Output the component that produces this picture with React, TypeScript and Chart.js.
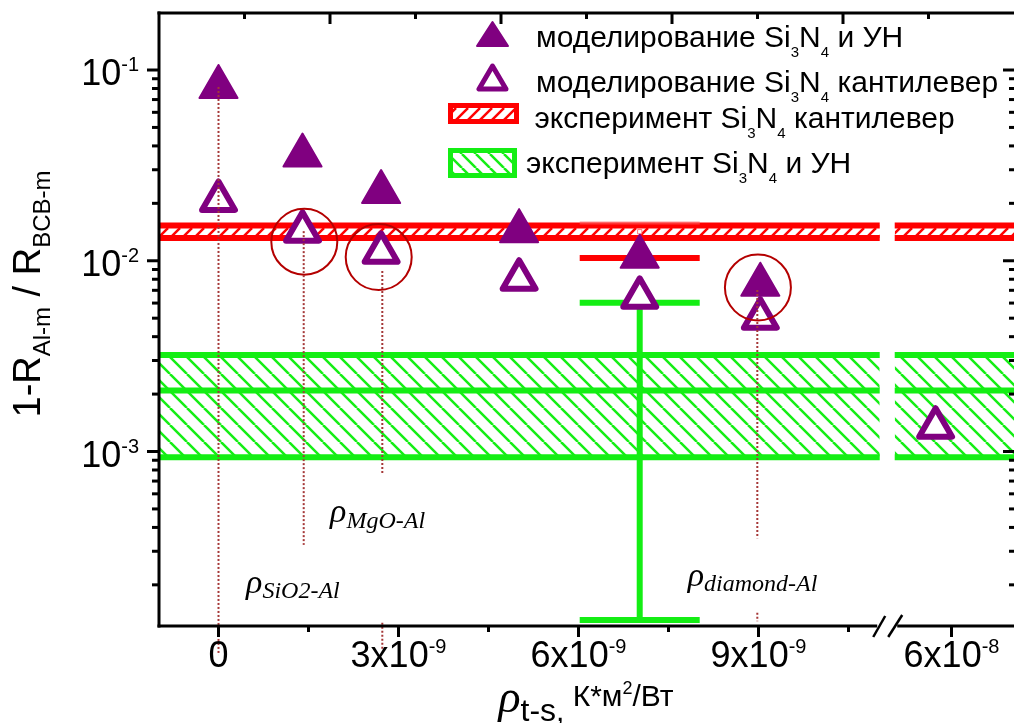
import React, { useEffect, useRef } from 'react';
import { Chart, registerables } from 'chart.js';
Chart.register(...registerables);

// ---------------- data ----------------
// model, Si3N4 + nanotube (filled triangles)
const modelX = [0, 1.40e-9, 2.71e-9, 5.01e-9, 7.02e-9, 9.03e-9];
const modelUN = [0.0815, 0.0356, 0.0229, 0.0143, 0.0105, 0.00749];
// model, Si3N4 cantilever (open triangles)
const cantX = [0, 1.40e-9, 2.71e-9, 5.01e-9, 7.02e-9, 9.03e-9, 5.86e-8];
const modelCant = [0.0207, 0.0143, 0.01107, 0.0080, 0.00643, 0.0050, 0.00134];
// experiment bands
const expCantBand = [0.01316, 0.01531]; // lower, upper
const expUNBand = [0.000933, 0.002089, 0.003206]; // lower, mean, upper
// error bars of the experiments
const errX = 7.02e-9;
const errHalfWidth = 1.0e-9;
const expCantErr = [0.01034, 0.0142, 0.01577]; // low, mid, high
const expUNErr = [1.31e-4, 0.00229, 0.00602]; // low, mid, high
// dotted guide lines
const guideX = [0, 1.42e-9, 2.73e-9, 2.73e-9, 8.98e-9, 8.98e-9];
const guideTop = [0.0815, 0.0143, 0.00884, 1.266e-4, 0.00703, 1.43e-4];
const guideBottom = [8.57e-5, 3.24e-4, 7.53e-4, 9.1e-5, 3.51e-4, 1.29e-4];
// circles
const circleX = [1.43e-9, 2.67e-9, 8.99e-9];
const circleY = [0.01259, 0.01046, 0.00724];
// annotations
const rhoLabels = ['MgO-Al', 'SiO2-Al', 'diamond-Al'];
const rhoLabelX = [1.86e-9, 0.46e-9, 7.82e-9];
const rhoLabelY = [4.27e-4, 1.82e-4, 1.98e-4];
// ticks
const xTickValues = [0, 3e-9, 6e-9, 9e-9, 6e-8];
const xTickMain = ['0', '3x10', '6x10', '9x10', '6x10'];
const xTickExp = ['', '-9', '-9', '-9', '-8'];
const xMinorValues = [1.5e-9, 4.5e-9, 7.5e-9, 10.5e-9];
const yTickValues = [1e-1, 1e-2, 1e-3];
const yTickMain = ['10', '10', '10'];
const yTickExp = ['-1', '-2', '-3'];
const topMajor = [1, 2, 3, 4];
const topMinor = [0.5, 1.5, 2.5, 3.5, 4.5];
// legend
const legendLabels = [
  ['моделирование Si', '3', 'N', '4', ' и УН'],
  ['моделирование Si', '3', 'N', '4', ' кантилевер'],
  ['эксперимент Si', '3', 'N', '4', ' кантилевер'],
  ['эксперимент Si', '3', 'N', '4', ' и УН'],
];

// ---------------- axis geometry (broken x axis) ----------------
const Y_MIN = 1.217e-4;
const Y_MAX = 0.199;
const U_MIN = -0.9917; // left edge, in units of 1e-9
const U_MAX = 13.258; // right edge
const SEG1_END = 11.02e-9;
const SEG2_START = 5.5e-8;
const SEG2_END = 6.55e-8;
const U2_START = 11.27;
const toU = (v: number) =>
  v <= 2e-8 ? v * 1e9 : U2_START + ((v - SEG2_START) / (SEG2_END - SEG2_START)) * (U_MAX - U2_START);

const SANS = '"Liberation Sans", Arial, sans-serif';
const SERIF = '"Liberation Serif", "Times New Roman", serif';
const PURPLE = '#800080';
const RED = '#ff0000';
const GREEN = '#14ee14';
const DOT = 'rgb(165,55,55)';

type Part = { t: string; font: string; dy?: number };
function richWidth(ctx: CanvasRenderingContext2D, parts: Part[]) {
  let w = 0;
  for (const p of parts) {
    ctx.font = p.font;
    w += ctx.measureText(p.t).width;
  }
  return w;
}
function drawRich(ctx: CanvasRenderingContext2D, parts: Part[], x: number, y: number, align: 'left' | 'center' | 'right') {
  const w = richWidth(ctx, parts);
  let cx = align === 'left' ? x : align === 'center' ? x - w / 2 : x - w;
  ctx.textAlign = 'left';
  ctx.textBaseline = 'alphabetic';
  for (const p of parts) {
    ctx.font = p.font;
    ctx.fillText(p.t, cx, y + (p.dy || 0));
    cx += ctx.measureText(p.t).width;
  }
}

function makePattern(color: string, size: number, lw: number, dir: '/' | '\\') {
  const c = document.createElement('canvas');
  c.width = size;
  c.height = size;
  const g = c.getContext('2d')!;
  g.strokeStyle = color;
  g.lineWidth = lw;
  for (let k = -1; k <= 1; k++) {
    g.beginPath();
    if (dir === '/') {
      g.moveTo(k * size, size);
      g.lineTo(k * size + size, 0);
    } else {
      g.moveTo(k * size, 0);
      g.lineTo(k * size + size, size);
    }
    g.stroke();
  }
  return g.createPattern(c, 'repeat')!;
}

function hline(y: number, color: string, width: number, order: number, x1: number, x2: number, extra: any = {}) {
  return {
    type: 'line',
    data: [
      { x: x1, y },
      { x: x2, y },
    ],
    borderColor: color,
    borderWidth: width,
    pointRadius: 0,
    fill: false,
    order,
    ...extra,
  };
}

const decor = {
  id: 'decor',
  beforeDatasetsDraw(chart: any) {
    chart.ctx.lineJoin = 'round';
  },
  afterDatasetsDraw(chart: any) {
    chart.ctx.lineJoin = 'miter';
  },
  afterDraw(chart: any) {
    const { ctx, chartArea: a, scales } = chart;
    const xs = scales.x;
    const ys = scales.y;
    const xt = scales.xTop;
    const line = (x1: number, y1: number, x2: number, y2: number) => {
      ctx.beginPath();
      ctx.moveTo(x1, y1);
      ctx.lineTo(x2, y2);
      ctx.stroke();
    };
    ctx.save();
    ctx.strokeStyle = '#000';
    ctx.fillStyle = '#000';
    ctx.lineCap = 'butt';
    ctx.lineWidth = 3;
    // frame
    line(a.left, a.top - 1.5, a.left, a.bottom + 1.5);
    line(a.left - 1.5, a.top, a.right, a.top);
    const bx = (xs.getPixelForValue(toU(SEG1_END)) + xs.getPixelForValue(toU(SEG2_START))) / 2;
    line(a.left - 1.5, a.bottom, bx - 10, a.bottom);
    line(bx + 10, a.bottom, a.right, a.bottom);
    // break marks
    ctx.lineWidth = 2.5;
    line(bx - 14, a.bottom + 11, bx - 2, a.bottom - 10);
    line(bx + 1, a.bottom + 11, bx + 15, a.bottom - 11);
    ctx.lineWidth = 3;
    // bottom ticks
    for (const v of xTickValues) {
      const px = xs.getPixelForValue(toU(v));
      line(px, a.bottom, px, a.bottom + 11);
    }
    for (const v of xMinorValues) {
      const px = xs.getPixelForValue(toU(v));
      line(px, a.bottom, px, a.bottom + 6);
    }
    // top ticks (inward)
    for (const v of topMajor) {
      const px = xt.getPixelForValue(v);
      line(px, a.top, px, a.top + 11);
    }
    for (const v of topMinor) {
      const px = xt.getPixelForValue(v);
      line(px, a.top, px, a.top + 6);
    }
    // left / right ticks
    for (const v of yTickValues) {
      const py = ys.getPixelForValue(v);
      line(a.left - 12, py, a.left, py);
      line(a.right - 11, py, a.right, py);
    }
    for (let k = -4; k <= -1; k++) {
      for (let m = 2; m <= 9; m++) {
        const v = m * Math.pow(10, k);
        if (v < Y_MIN || v > Y_MAX) continue;
        const py = ys.getPixelForValue(v);
        line(a.left - 7, py, a.left, py);
        line(a.right - 5, py, a.right, py);
      }
    }
    // tick labels
    const big = `36px ${SANS}`;
    const sup = `20px ${SANS}`;
    xTickValues.forEach((v, i) => {
      const px = xs.getPixelForValue(toU(v));
      const parts: Part[] = [{ t: xTickMain[i], font: big }];
      if (xTickExp[i]) parts.push({ t: xTickExp[i], font: sup, dy: -14 });
      drawRich(ctx, parts, px, 667, 'center');
    });
    yTickValues.forEach((v, i) => {
      const py = ys.getPixelForValue(v);
      drawRich(
        ctx,
        [
          { t: yTickMain[i], font: big },
          { t: yTickExp[i], font: sup, dy: -14 },
        ],
        139,
        py + 15,
        'right'
      );
    });
    // axis titles
    ctx.save();
    ctx.translate(40, 294);
    ctx.rotate(-Math.PI / 2);
    drawRich(
      ctx,
      [
        { t: '1-R', font: `38px ${SANS}` },
        { t: 'Al-m', font: `24px ${SANS}`, dy: 10 },
        { t: ' / R', font: `38px ${SANS}` },
        { t: 'BCB-m', font: `24px ${SANS}`, dy: 10 },
      ],
      0,
      0,
      'center'
    );
    ctx.restore();
    drawRich(
      ctx,
      [
        { t: 'ρ', font: `italic 46px ${SERIF}` },
        { t: 't-s', font: `32px ${SANS}`, dy: 9 },
        { t: ', ', font: `30px ${SANS}`, dy: 9 },
        { t: 'К*м', font: `30px ${SANS}`, dy: -6 },
        { t: '2', font: `18px ${SANS}`, dy: -18 },
        { t: '/Вт', font: `30px ${SANS}`, dy: -6 },
      ],
      586,
      712,
      'center'
    );
    // rho annotations
    rhoLabels.forEach((s, i) => {
      const px = xs.getPixelForValue(toU(rhoLabelX[i]));
      const py = ys.getPixelForValue(rhoLabelY[i]);
      drawRich(
        ctx,
        [
          { t: 'ρ', font: `italic 34px ${SERIF}` },
          { t: s, font: `italic 24px ${SERIF}`, dy: 5.5 },
        ],
        px,
        py,
        'left'
      );
    });
    // legend
    ctx.lineJoin = 'round';
    ctx.fillStyle = PURPLE;
    ctx.strokeStyle = PURPLE;
    ctx.lineWidth = 2;
    ctx.beginPath();
    ctx.moveTo(492.5, 22);
    ctx.lineTo(477, 46);
    ctx.lineTo(508, 46);
    ctx.closePath();
    ctx.fill();
    ctx.stroke();
    ctx.fillStyle = '#fff';
    ctx.lineWidth = 5;
    ctx.beginPath();
    ctx.moveTo(492.5, 66);
    ctx.lineTo(479, 89);
    ctx.lineTo(506, 89);
    ctx.closePath();
    ctx.fill();
    ctx.stroke();
    const box = (x: number, y: number, w: number, h: number, color: string, pat: CanvasPattern) => {
      ctx.fillStyle = pat;
      ctx.fillRect(x, y, w, h);
      ctx.strokeStyle = color;
      ctx.lineWidth = 5;
      ctx.lineJoin = 'miter';
      ctx.strokeRect(x, y, w, h);
    };
    box(450.5, 105.5, 66, 16, RED, chart.$redLegendPat);
    box(450.5, 150.5, 64, 25, GREEN, chart.$greenLegendPat);
    ctx.fillStyle = '#000';
    const lf = `30px ${SANS}`;
    const sf = `15px ${SANS}`;
    const rows = [
      [536, 46.7],
      [536, 91.7],
      [534.5, 128.3],
      [526, 173.3],
    ];
    legendLabels.forEach((lab, i) => {
      drawRich(
        ctx,
        [
          { t: lab[0], font: lf },
          { t: lab[1], font: sf, dy: 10 },
          { t: lab[2], font: lf },
          { t: lab[3], font: sf, dy: 10 },
          { t: lab[4], font: lf },
        ],
        rows[i][0],
        rows[i][1],
        'left'
      );
    });
    ctx.restore();
  },
};

export default function App() {
  const ref = useRef<HTMLCanvasElement>(null);
  useEffect(() => {
    const canvas = ref.current!;
    const redPat = makePattern(RED, 12, 2.5, '/');
    const greenPat = makePattern(GREEN, 17, 2.5, '\\');
    const datasets: any[] = [];
    guideX.forEach((gx, i) => {
      datasets.push({
        type: 'line',
        data: [
          { x: toU(gx), y: guideTop[i] },
          { x: toU(gx), y: guideBottom[i] },
        ],
        borderColor: DOT,
        borderWidth: 2,
        borderDash: [2, 2],
        pointRadius: 0,
        fill: false,
        clip: false,
        order: 0,
      });
    });
    datasets.push({
      type: 'line',
      showLine: false,
      data: circleX.map((x, i) => ({ x: toU(x), y: circleY[i] })),
      pointStyle: 'circle',
      pointRadius: 33,
      pointBorderWidth: 2,
      pointBorderColor: '#b40000',
      pointBackgroundColor: 'rgba(0,0,0,0)',
      order: 1,
    });
    datasets.push({
      type: 'line',
      showLine: false,
      data: modelX.map((x, i) => ({ x: toU(x), y: modelUN[i] })),
      pointStyle: 'triangle',
      pointRadius: 22,
      pointBorderWidth: 2,
      pointBorderColor: PURPLE,
      pointBackgroundColor: PURPLE,
      order: 2,
    });
    datasets.push({
      type: 'line',
      showLine: false,
      data: cantX.map((x, i) => ({ x: toU(x), y: modelCant[i] })),
      pointStyle: 'triangle',
      pointRadius: 19,
      pointBorderWidth: 6,
      pointBorderColor: PURPLE,
      pointBackgroundColor: '#ffffff',
      order: 3,
    });
    const ex1 = toU(errX - errHalfWidth);
    const ex2 = toU(errX + errHalfWidth);
    const exc = toU(errX);
    datasets.push(hline(expCantErr[0], RED, 6, 4, ex1, ex2));
    datasets.push(hline(expCantErr[2], 'rgba(255,90,90,0.6)', 3, 4, ex1, ex2));
    datasets.push(hline(expUNErr[2], GREEN, 6, 4, ex1, ex2));
    datasets.push(hline(expUNErr[0], GREEN, 6, 4, ex1, ex2));
    datasets.push({
      type: 'line',
      data: [
        { x: exc, y: expUNErr[0] },
        { x: exc, y: expUNErr[2] },
      ],
      borderColor: GREEN,
      borderWidth: 6,
      pointRadius: 0,
      fill: false,
      order: 4,
    });
    datasets.push({
      type: 'line',
      showLine: false,
      data: [
        { x: exc, y: expCantErr[1] },
        { x: exc, y: expUNErr[1] },
      ],
      pointStyle: 'rect',
      pointRadius: 3,
      pointBorderWidth: 1,
      pointBorderColor: ['rgba(255,90,90,0.8)', GREEN],
      pointBackgroundColor: '#ffffff',
      order: 4,
    });
    const segs = [
      [U_MIN, toU(SEG1_END)],
      [toU(SEG2_START), U_MAX],
    ];
    segs.forEach(([s1, s2]) => {
      datasets.push(hline(expCantBand[1], RED, 6, 5, s1, s2));
      datasets.push(hline(expCantBand[0], RED, 6, 5, s1, s2, { fill: '-1', backgroundColor: redPat }));
      datasets.push(hline(expUNBand[2], GREEN, 6, 5, s1, s2));
      datasets.push(hline(expUNBand[1], GREEN, 6, 5, s1, s2, { fill: '-1', backgroundColor: greenPat }));
      datasets.push(hline(expUNBand[0], GREEN, 6, 5, s1, s2, { fill: '-1', backgroundColor: greenPat }));
    });

    const chart: any = new Chart(canvas, {
      type: 'line',
      data: { datasets },
      options: {
        animation: false,
        responsive: true,
        maintainAspectRatio: false,
        events: [],
        layout: { autoPadding: false, padding: { left: 159, top: 13, right: 0, bottom: 97 } },
        plugins: { legend: { display: false }, tooltip: { enabled: false } },
        scales: {
          x: { type: 'linear', display: false, min: U_MIN, max: U_MAX },
          xTop: { type: 'linear', position: 'top', display: false, min: 0, max: 5 },
          y: { type: 'logarithmic', display: false, min: Y_MIN, max: Y_MAX },
        },
      },
      plugins: [decor],
    } as any);
    chart.$redLegendPat = redPat;
    chart.$greenLegendPat = makePattern(GREEN, 14, 2.5, '\\');
    chart.draw();
    return () => chart.destroy();
  }, []);
  return (
    <div style={{ position: 'fixed', left: 0, top: 0, width: 1014, height: 723, background: '#fff' }}>
      <canvas ref={ref} />
    </div>
  );
}
